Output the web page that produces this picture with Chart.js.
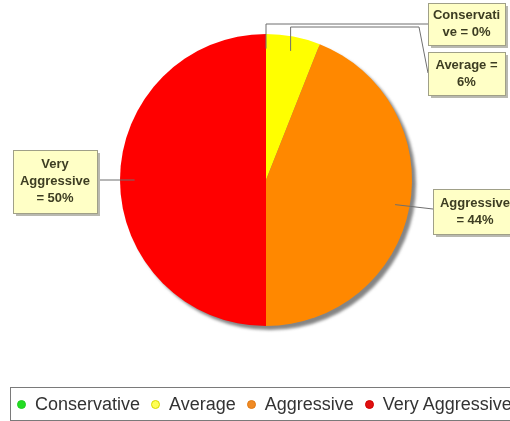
<!DOCTYPE html>
<html>
<head>
<meta charset="utf-8">
<script src="https://cdn.jsdelivr.net/npm/chart.js@4"></script>
<style>
  html, body { margin: 0; padding: 0; background: #fff; overflow: hidden; }
  #wrap { position: relative; width: 510px; height: 421px; overflow: hidden; }
  #legend {
    position: absolute; left: 10px; top: 387px; width: 560px; height: 34px;
    box-sizing: border-box; border: 1px solid #7a7a7a; border-right: none;
    display: flex; align-items: center; white-space: nowrap;
    font: 18px "Liberation Sans", Arial, sans-serif; color: #333;
    padding-left: 6px;
  }
  #legend .item { display: flex; align-items: center; margin-right: 11px; }
  #legend .dot { width: 9px; height: 9px; border-radius: 50%; margin-right: 9px; box-sizing: border-box; }
</style>
</head>
<body>
<div id="wrap">
  <canvas id="pie" width="510" height="421"></canvas>
  <div id="legend"></div>
</div>
<script>
const categories = ["Conservative", "Average", "Aggressive", "Very Aggressive"];
const shares = [0, 6, 44, 50];
const sliceColors = ["#00cc00", "#ffff00", "#ff8800", "#ff0000"];
const legendColors = ["#22dd22", "#ffff55", "#f08a24", "#e01010"];
const legendBorders = ["#22cc22", "#d8d800", "#e07a14", "#d00000"];

// callout boxes: [x, y, w, h] plus the elbow route from the slice anchor to the box
const callouts = [
  { box: [428, 3, 77, 42], route: (a) => [[a.x, 24], [428, 24]] },
  { box: [428, 52, 77, 43], route: (a) => [[a.x, 27], [419, 27], [428, 73]] },
  { box: [433, 189, 84, 45], route: () => [[433, 209]] },
  { box: [13, 150, 84, 63], route: (a) => [[97, a.y]] },
];

const labelFont = 'bold 13px "Liberation Sans", Arial, sans-serif';

function wrapText(ctx, text, maxW) {
  const lines = [];
  let cur = "";
  for (const word of text.split(" ")) {
    const test = cur ? cur + " " + word : word;
    if (ctx.measureText(test).width <= maxW) { cur = test; continue; }
    if (cur) lines.push(cur);
    cur = "";
    let w = word;
    while (ctx.measureText(w).width > maxW) {
      let n = w.length - 1;
      while (n > 1 && ctx.measureText(w.slice(0, n)).width > maxW) n--;
      lines.push(w.slice(0, n));
      w = w.slice(n);
    }
    cur = w;
  }
  if (cur) lines.push(cur);
  return lines;
}

const pieShadow = {
  id: "pieShadow",
  beforeDatasetsDraw(chart) {
    const arc = chart.getDatasetMeta(0).data[0];
    if (!arc) return;
    const ctx = chart.ctx;
    ctx.save();
    ctx.filter = "blur(1.5px)";
    ctx.fillStyle = "#858585";
    ctx.beginPath();
    ctx.arc(arc.x + 4, arc.y + 4, arc.outerRadius, 0, Math.PI * 2);
    ctx.fill();
    ctx.restore();
  },
};

const calloutLabels = {
  id: "calloutLabels",
  afterDatasetsDraw(chart) {
    const ctx = chart.ctx;
    const arcs = chart.getDatasetMeta(0).data;
    ctx.save();
    // leader lines
    arcs.forEach((arc, i) => {
      const mid = (arc.startAngle + arc.endAngle) / 2;
      const r = arc.outerRadius * 0.9;
      const a = { x: arc.x + Math.cos(mid) * r, y: arc.y + Math.sin(mid) * r };
      ctx.strokeStyle = "#6f6f6f";
      ctx.lineWidth = 1;
      ctx.beginPath();
      ctx.moveTo(a.x, a.y);
      for (const [px, py] of callouts[i].route(a)) ctx.lineTo(px, py);
      ctx.stroke();
    });
    // boxes
    ctx.font = labelFont;
    arcs.forEach((arc, i) => {
      const [x, y, w, h] = callouts[i].box;
      ctx.fillStyle = "#b9b9b0";
      ctx.fillRect(x + 3, y + 3, w, h);
      ctx.fillStyle = "#ffffc6";
      ctx.fillRect(x, y, w, h);
      ctx.strokeStyle = "#a0a088";
      ctx.lineWidth = 1;
      ctx.strokeRect(x + 0.5, y + 0.5, w, h);
      const lines = wrapText(ctx, `${categories[i]} = ${shares[i]}%`, 72);
      const lh = 17;
      const top = y + h / 2 - (lines.length * lh) / 2 + lh / 2;
      ctx.fillStyle = "#3d3d22";
      ctx.textAlign = "center";
      ctx.textBaseline = "middle";
      lines.forEach((ln, k) => ctx.fillText(ln, x + w / 2, top + k * lh));
    });
    ctx.restore();
  },
};

new Chart(document.getElementById("pie"), {
  type: "pie",
  data: {
    labels: categories,
    datasets: [{ data: shares, backgroundColor: sliceColors, borderWidth: 0 }],
  },
  options: {
    responsive: false,
    animation: false,
    layout: { padding: { top: 34, bottom: 95, left: 22, right: 0 } },
    plugins: { legend: { display: false }, tooltip: { enabled: false } },
  },
  plugins: [pieShadow, calloutLabels],
});

const legend = document.getElementById("legend");
categories.forEach((name, i) => {
  const item = document.createElement("span");
  item.className = "item";
  item.innerHTML = `<span class="dot" style="background:${legendColors[i]};border:1px solid ${legendBorders[i]}"></span><span>${name}</span>`;
  legend.appendChild(item);
});
</script>
</body>
</html>
